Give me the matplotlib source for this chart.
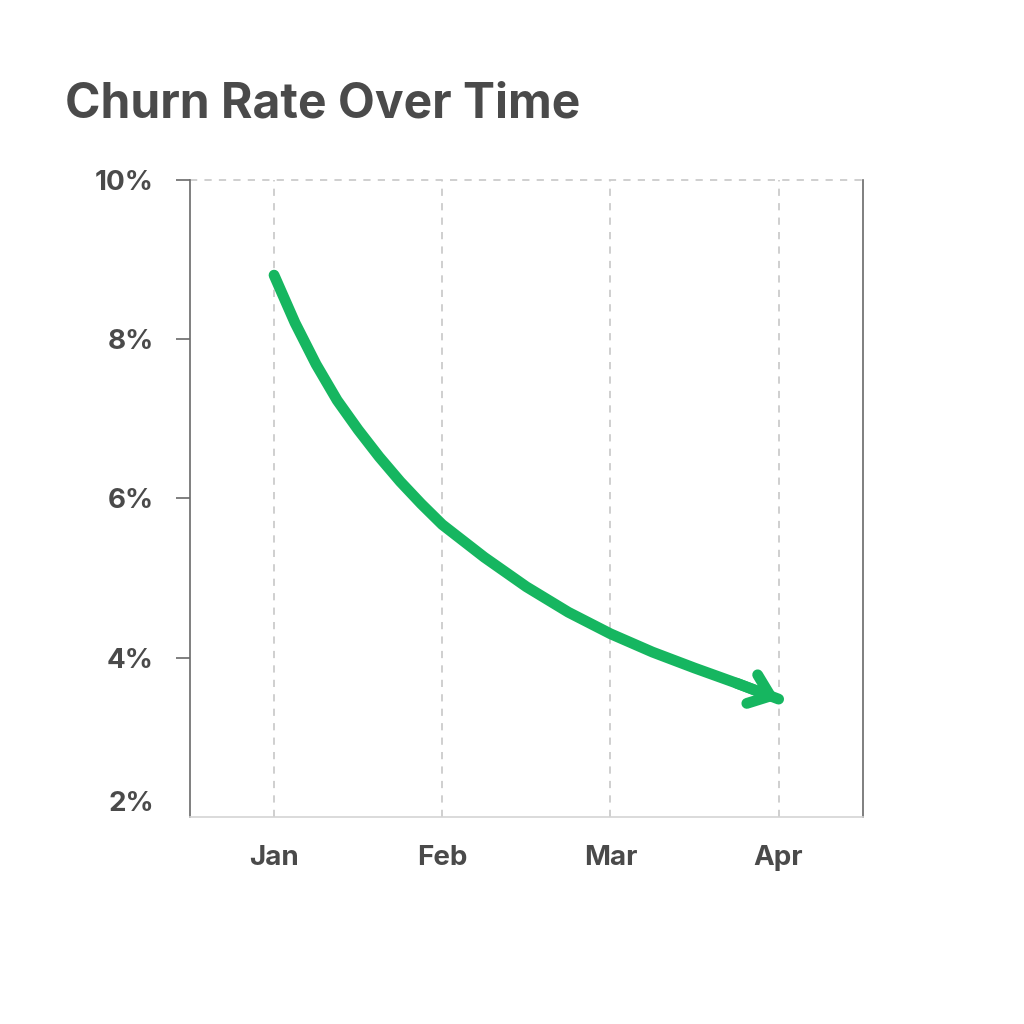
import matplotlib
matplotlib.use("Agg")
import matplotlib.pyplot as plt

# months on x, churn % on y (curve at small steps)
months = ["Jan", "Feb", "Mar", "Apr"]
curve_x = [0, 0.125, 0.25, 0.375, 0.5, 0.625, 0.75, 0.875, 1.0,
           1.25, 1.5, 1.75, 2.0, 2.25, 2.5, 2.75, 3.0]
churn = [8.80, 8.20, 7.68, 7.23, 6.86, 6.52, 6.21, 5.93, 5.67,
         5.26, 4.89, 4.57, 4.30, 4.07, 3.87, 3.68, 3.48]
y_ticks = [2, 4, 6, 8, 10]
y_labels = ["2%", "4%", "6%", "8%", "10%"]

GREEN = "#16B660"
TEXT = "#4a4a4a"
SPINE = "#6a6a6a"
GRID = "#cbcbcb"

plt.rcParams['font.family'] = ['Inter', 'DejaVu Sans']

fig = plt.figure(figsize=(10.24, 10.24), dpi=100)
fig.patch.set_facecolor("white")
ax = fig.add_axes([0.1855, 0.2021, 0.657, 0.6226])

ax.set_xlim(-0.5, 3.5)
ax.set_ylim(2, 10)

# dashed month gridlines + dashed top line at 10%
for i in range(len(months)):
    ax.axvline(i, color=GRID, lw=1.3, ls=(0, (4, 4)), zorder=1)
ax.axhline(10, color=GRID, lw=1.3, ls=(0, (4, 4)), zorder=1, clip_on=False)

# curve
ax.plot(curve_x, churn, color=GREEN, lw=7.8, solid_capstyle='round',
        solid_joinstyle='round', zorder=3)
# chevron head at the end
ax.annotate("", xy=(curve_x[-1], churn[-1]), xytext=(curve_x[-2], churn[-2]),
            arrowprops=dict(arrowstyle="->,head_length=0.7,head_width=0.55",
                            color=GREEN, lw=7.8, capstyle='round',
                            joinstyle='round', shrinkA=0, shrinkB=0,
                            mutation_scale=20),
            zorder=4)

ax.set_xticks(range(len(months)))
ax.set_xticklabels(months)
ax.set_yticks(y_ticks)
ax.set_yticklabels(y_labels)

ax.tick_params(axis='x', length=0, pad=20, labelsize=20, labelcolor=TEXT)
ax.tick_params(axis='y', length=10, width=1.2, color=SPINE, pad=16,
               labelsize=20, labelcolor=TEXT)
for lab in ax.get_xticklabels() + ax.get_yticklabels():
    lab.set_fontweight('bold')
# bottom label sits a bit above the axis line
ax.get_yticklabels()[0].set_verticalalignment('bottom')
ax.yaxis.get_major_ticks()[0].tick1line.set_visible(False)

ax.spines['top'].set_visible(False)
ax.spines['left'].set_color(SPINE)
ax.spines['left'].set_linewidth(1.2)
ax.spines['right'].set_color(SPINE)
ax.spines['right'].set_linewidth(1.2)
ax.spines['bottom'].set_color("#d4d4d4")
ax.spines['bottom'].set_linewidth(1.2)

fig.text(0.0635, 1 - 117 / 1024, "Churn Rate Over Time", fontsize=34.5,
         fontweight='bold', color=TEXT, va='baseline', ha='left')

fig.savefig("out.png", dpi=100, facecolor="white")
